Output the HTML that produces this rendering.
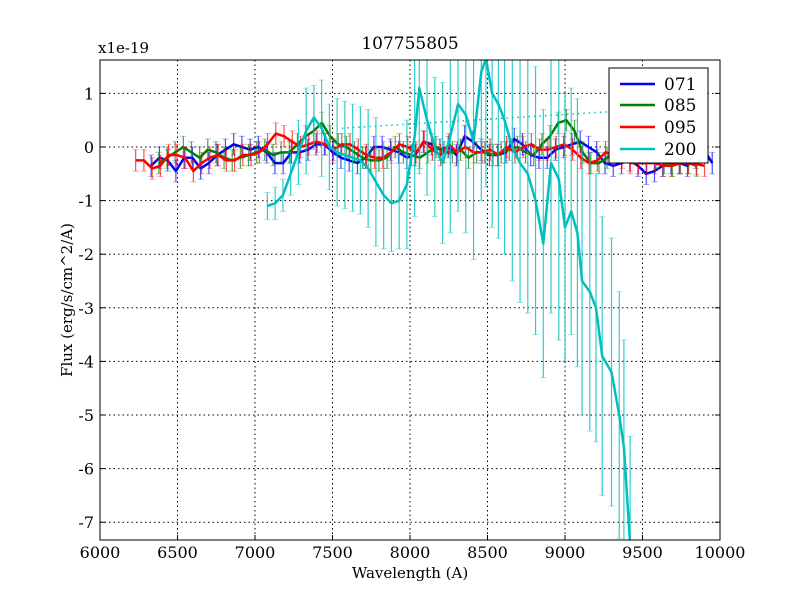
<!DOCTYPE html>
<html><head><meta charset="utf-8"><style>
html,body{margin:0;padding:0;width:800px;height:600px;overflow:hidden;background:#fff;}
svg{position:absolute;left:0;top:0;display:block;font-family:"DejaVu Serif","Liberation Serif",serif;}
</style></head><body>
<svg id="chart" width="800" height="600">
<rect width="800" height="600" fill="#fff"/>
<text x="410" y="49" font-size="17" text-anchor="middle">107755805</text>
<text x="98" y="53" font-size="15">x1e-19</text>
<text x="410" y="578" font-size="15" text-anchor="middle">Wavelength (A)</text>
<text x="72" y="300" font-size="15" text-anchor="middle" transform="rotate(-90 72 300)">Flux (erg/s/cm^2/A)</text>
<g id="grid"></g>
<g id="ticks"></g>
<clipPath id="clip"><rect x="100" y="60" width="620" height="480"/></clipPath>
<g id="plot" clip-path="url(#clip)"></g>
<rect x="100" y="60" width="620" height="480" fill="none" stroke="#000" stroke-width="1"/>
<g>
<rect x="609" y="68" width="99" height="95" fill="#fff" stroke="#000"/>
<line x1="620" x2="655" y1="84" y2="84" stroke="#0000ff" stroke-width="2.5"/>
<text x="664" y="90" font-size="17">071</text>
<line x1="620" x2="655" y1="105" y2="105" stroke="#008000" stroke-width="2.5"/>
<text x="664" y="111" font-size="17">085</text>
<line x1="620" x2="655" y1="127" y2="127" stroke="#ff0000" stroke-width="2.5"/>
<text x="664" y="133" font-size="17">095</text>
<line x1="620" x2="655" y1="149" y2="149" stroke="#00bfbf" stroke-width="2.5"/>
<text x="664" y="155" font-size="17">200</text>
</g>
</svg>
<script>
const xTicks=[6000,6500,7000,7500,8000,8500,9000,9500,10000];
const yTicks=[1,0,-1,-2,-3,-4,-5,-6,-7];
const wl071=[6330,9950];
const f071=[-0.35,-0.2,-0.25,-0.45,-0.2,-0.2,-0.4,-0.3,-0.15,-0.05,0.05,0,-0.05,0,-0.1,-0.3,-0.3,-0.1,-0.1,-0.05,0.05,0.05,-0.1,-0.2,-0.25,-0.3,-0.2,0,0,-0.05,-0.1,-0.2,-0.15,0.1,0.05,-0.05,0,-0.15,0.2,0.1,-0.05,-0.15,-0.15,-0.1,0.15,0.05,-0.15,-0.2,-0.2,-0.05,0,0.05,0.1,0,-0.1,-0.3,-0.35,-0.3,-0.25,-0.35,-0.5,-0.45,-0.35,-0.3,-0.3,-0.35,-0.2,-0.05,-0.3];
const wl085=[6380,9850];
const f085=[-0.3,-0.2,-0.1,0,-0.1,-0.2,-0.05,-0.1,-0.2,-0.25,-0.2,-0.15,-0.1,-0.05,-0.15,-0.1,-0.1,0.05,0.2,0.3,0.45,0.2,0.05,0,-0.1,-0.2,-0.25,-0.25,-0.2,0,-0.1,-0.15,-0.2,-0.1,0,-0.1,-0.1,-0.05,-0.2,-0.1,-0.1,-0.15,-0.1,-0.05,0,-0.1,-0.15,0.05,0.2,0.45,0.5,0.3,-0.1,-0.3,-0.3,-0.2,-0.1,0.05,0.3,0.15,0,-0.2,-0.3,-0.35,-0.3,-0.3,-0.35];
const wl095=[6230,9900];
const f095=[-0.25,-0.25,-0.4,-0.35,-0.15,-0.15,-0.2,-0.45,-0.3,-0.2,-0.15,-0.25,-0.25,-0.15,-0.15,-0.1,0.05,0.25,0.2,0.1,0,0.05,0.1,0.05,-0.05,0.05,0.05,-0.05,-0.15,-0.2,-0.2,-0.1,0.05,0,-0.1,0.1,-0.05,-0.15,0.05,-0.1,0,-0.1,-0.1,-0.05,-0.15,0,-0.1,0,0.05,-0.05,-0.05,0,0.05,-0.05,-0.2,-0.3,-0.25,-0.1,-0.15,-0.2,-0.3,-0.3,-0.3,-0.3,-0.35,-0.35,-0.3,-0.3,-0.32,-0.35];
const wl200=[7080,7130,7180,7230,7280,7330,7380,7430,7480,7530,7580,7630,7680,7730,7780,7830,7880,7930,7980,8030,8060,8110,8160,8210,8260,8310,8360,8410,8460,8490,8530,8570,8610,8660,8710,8760,8810,8860,8910,8960,9000,9040,9080,9110,9160,9200,9240,9300,9350,9380,9420];
const f200=[-1.1,-1.05,-0.9,-0.5,-0.1,0.3,0.55,0.35,0,-0.1,-0.15,-0.2,-0.25,-0.4,-0.65,-0.9,-1.05,-1.0,-0.7,0.2,1.1,0.5,0,-0.3,0.2,0.8,0.6,0.1,1.4,1.65,1.0,0.8,0.5,0,-0.3,-0.5,-1.0,-1.8,-0.3,-0.6,-1.5,-1.2,-1.6,-2.5,-2.7,-3.0,-3.9,-4.2,-5.0,-5.6,-7.4];
const e200=[0.25,0.3,0.3,0.4,0.6,0.8,0.6,0.9,0.8,1.0,1.0,1.0,1.0,1.1,1.2,1.0,0.9,0.9,1.2,1.5,1.6,1.4,1.3,1.5,1.8,2.0,2.2,2.2,2.4,2.4,2.5,2.5,2.5,2.5,2.6,2.6,2.5,2.5,2.8,3.0,2.5,2.3,2.5,2.5,2.6,2.5,2.6,2.5,2.3,2.0,2.0];
const wlDot=[7560,9800];
const fDot=[0.35,0.75];
const errSmall=0.2;

const NS='http://www.w3.org/2000/svg';
const X=w=>100+(w-6000)*620/4000;
const Y=f=>Math.max(55,Math.min(545,147-f*53.6));
function el(tag,attrs,parent){const e=document.createElementNS(NS,tag);for(const k in attrs)e.setAttribute(k,attrs[k]);parent.appendChild(e);return e;}
const grid=document.getElementById('grid'),ticks=document.getElementById('ticks'),plot=document.getElementById('plot');
xTicks.forEach(t=>{
  if(t>6000&&t<10000){const g=el('line',{x1:X(t),x2:X(t),y1:60,y2:540,stroke:'#000','stroke-dasharray':'1.5,3'},grid);
  
  }
  el('line',{x1:X(t),x2:X(t),y1:540,y2:535,stroke:'#000'},ticks);
  const tx=el('text',{x:X(t),y:558,'font-size':16,'text-anchor':'middle'},ticks);tx.textContent=t;
  
  
});
yTicks.forEach(t=>{
  const g=el('line',{x1:100,x2:720,y1:Y(t),y2:Y(t),stroke:'#000','stroke-dasharray':'1.5,3'},grid);
  
  
  el('line',{x1:100,x2:105,y1:Y(t),y2:Y(t),stroke:'#000'},ticks);
  el('line',{x1:715,x2:720,y1:Y(t),y2:Y(t),stroke:'#000'},ticks);
  const tx=el('text',{x:94,y:Y(t)+6,'font-size':16,'text-anchor':'end'},ticks);tx.textContent=t;
  
  
});
function series(name,ws,fs,errs,color,lineAlpha){
  const g=el('g',{},plot);
  
  
  fs.forEach((f,i)=>{
    const x=X(ws[i]),e=errs[i];
    const b=el('g',{stroke:color,'stroke-opacity':lineAlpha},g);
    
    
    el('line',{x1:x,x2:x,y1:Y(f+e),y2:Y(f-e),'stroke-width':1.2},b);
    el('line',{x1:x-3,x2:x+3,y1:Y(f+e),y2:Y(f+e),'stroke-opacity':lineAlpha*0.5},b);
    el('line',{x1:x-3,x2:x+3,y1:Y(f-e),y2:Y(f-e),'stroke-opacity':lineAlpha*0.5},b);
  });
  const p=el('polyline',{points:fs.map((f,i)=>X(ws[i])+','+Y(f)).join(' '),fill:'none',stroke:color,'stroke-width':2.5,'stroke-linejoin':'round'},g);
  
  
}
function span(r,n){return Array.from({length:n},(_,i)=>r[0]+(r[1]-r[0])*i/(n-1));}
const dot=el('line',{x1:X(wlDot[0]),x2:X(wlDot[1]),y1:Y(fDot[0]),y2:Y(fDot[1]),stroke:'#00bfbf','stroke-dasharray':'1.5,4','stroke-width':1.5},plot);


series('071',span(wl071,f071.length),f071,f071.map(()=>errSmall),'#0000ff',0.7);
series('085',span(wl085,f085.length),f085,f085.map(()=>errSmall),'#008000',0.7);
series('095',span(wl095,f095.length),f095,f095.map(()=>errSmall),'#ff0000',0.7);
series('200',wl200,f200,e200,'#00bfbf',0.8);
</script>
</body></html>
